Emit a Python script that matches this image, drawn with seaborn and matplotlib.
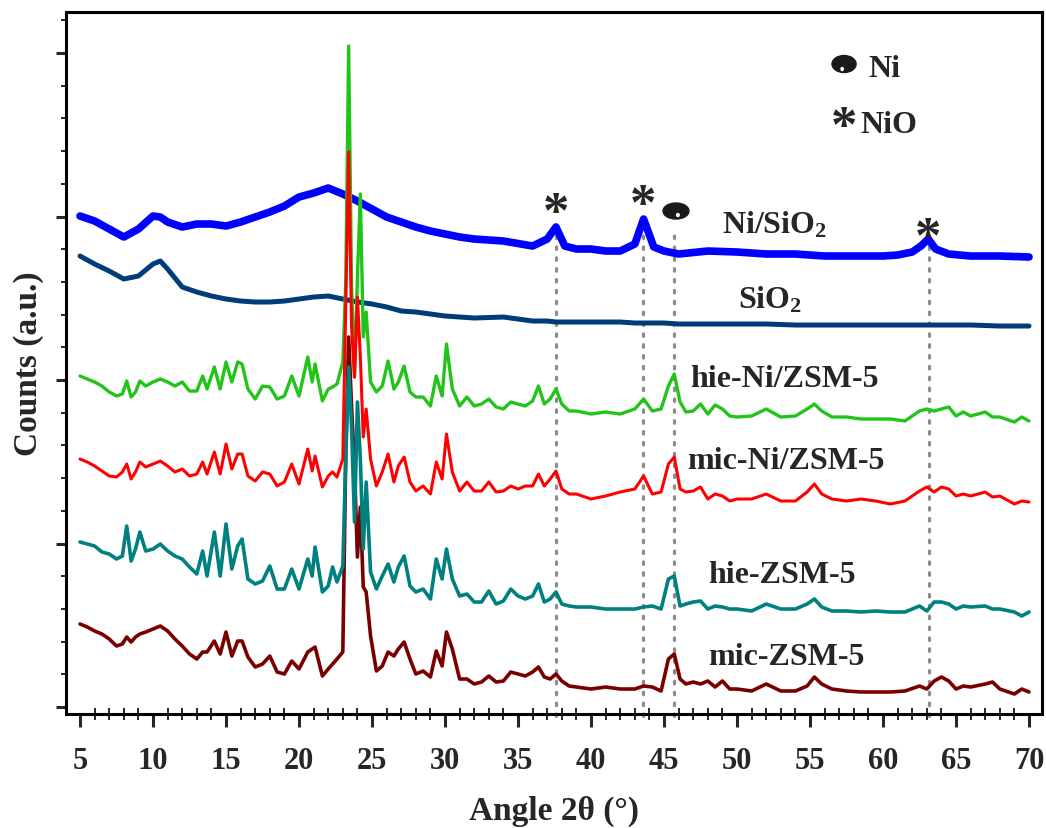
import numpy as np
import pandas as pd
import matplotlib
matplotlib.use('Agg')
import matplotlib.pyplot as plt
import seaborn as sns
from matplotlib.patches import Ellipse
from matplotlib.ticker import MultipleLocator, NullFormatter

# ZSM-5 samples: common 2theta grid (deg) and intensities (a.u., stacked offsets included)
x_zsm = [5.0, 5.5, 6.0, 6.5, 7.0, 7.5,
         7.9, 8.2, 8.5, 8.8, 9.1, 9.5,
         10.0, 10.5, 11.0, 11.5, 12.0, 12.5, 13.0,
         13.4, 13.7, 14.2, 14.6, 15.0, 15.4, 15.8, 16.1, 16.5,
         17.0, 17.5, 18.0, 18.5, 19.0, 19.5, 20.0,
         20.6, 20.9, 21.1, 21.6, 22.0, 22.3, 22.6, 23.0,
         23.2, 23.4, 23.6, 23.8, 24.0, 24.2, 24.4, 24.6, 24.9,
         25.3, 25.7, 26.1, 26.5, 26.8, 27.2, 27.6, 28.0,
         28.5, 29.0, 29.4, 29.8, 30.1, 30.5, 31.0, 31.5, 32.0,
         32.5, 33.0, 33.5, 34.0, 34.5, 35.0, 35.5, 36.0,
         36.4, 36.8, 37.2, 37.6, 38.0, 38.5, 39.0,
         40.0, 41.0, 42.0, 43.0, 43.6, 44.2, 44.8, 45.3, 45.7, 46.1, 46.5,
         47.0, 47.5, 48.0, 48.5, 49.0, 49.5, 50.0,
         51.0, 52.0, 53.0, 54.0, 54.8, 55.3, 55.8, 56.5,
         57.5, 58.5, 59.5, 60.5, 61.5, 62.5,
         63.0, 63.5, 64.0, 64.5, 65.0, 65.5, 66.0,
         67.0, 67.5, 68.0, 69.0, 69.5, 70.0]

hie_ni_zsm5 = [331, 328, 325, 321, 315, 311,
               313, 326, 310, 315, 326, 321,
               325, 328, 325, 321, 325, 316, 316,
               331, 318, 340, 318, 345, 325, 345, 343, 318,
               308, 321, 320, 308, 311, 331, 311,
               350, 325, 343, 306, 318, 320, 323, 345,
               425, 661, 420, 330, 430, 513, 370, 395, 325,
               315, 321, 346, 318, 325, 341, 315, 310,
               310, 301, 331, 311, 363, 318, 301, 310, 301,
               303, 308, 300, 298, 305, 303, 301, 306,
               321, 303, 308, 318, 303, 296, 296,
               293, 295, 293, 298, 308, 296, 298, 321, 333, 305, 295,
               296, 303, 293, 302, 298, 291, 290,
               291, 298, 290, 291, 298, 303, 296, 290,
               290, 288, 288, 288, 286, 296,
               298, 296, 298, 300, 291, 295, 291,
               295, 290, 290, 285, 290, 286]

mic_ni_zsm5 = [248, 245, 241, 236, 231, 230,
               235, 243, 228, 235, 245, 240,
               243, 246, 241, 235, 238, 231, 233,
               245, 233, 255, 233, 263, 238, 253, 253, 231,
               226, 235, 233, 221, 225, 243, 223,
               258, 236, 251, 220, 231, 235, 230, 248,
               400, 555, 380, 330, 410, 350, 270, 298, 248,
               221, 235, 253, 225, 241, 250, 225, 216,
               221, 213, 245, 228, 273, 235, 216, 225, 216,
               216, 225, 215, 216, 221, 218, 221, 221,
               233, 221, 228, 236, 218, 213, 213,
               208, 211, 215, 218, 231, 213, 215, 243, 250, 218, 215,
               216, 220, 208, 213, 211, 206, 208,
               208, 213, 206, 206, 215, 223, 213, 208,
               206, 208, 206, 203, 206, 216,
               220, 215, 220, 218, 211, 213, 211,
               215, 210, 211, 203, 206, 205]

hie_zsm5 = [165, 163, 161, 155, 153, 148,
            151, 181, 146, 158, 175, 156,
            158, 163, 156, 151, 148, 140, 133,
            156, 131, 175, 131, 183, 138, 161, 168, 128,
            123, 126, 141, 118, 118, 138, 118,
            148, 131, 160, 115, 121, 140, 125, 141,
            248, 340, 280, 185, 305, 248, 158, 225, 135,
            118, 131, 143, 125, 140, 151, 121, 115,
            118, 108, 148, 128, 158, 128, 111, 113, 105,
            105, 116, 103, 106, 118, 111, 108, 111,
            123, 105, 108, 115, 103, 101, 100,
            100, 98, 98, 98, 100, 101, 98, 128, 131, 101, 103,
            105, 106, 98, 101, 100, 98, 98,
            96, 103, 98, 98, 103, 108, 100, 96,
            96, 95, 96, 95, 95, 101,
            96, 105, 105, 103, 98, 101, 100,
            101, 98, 98, 95, 91, 95]

mic_zsm5 = [83, 80, 76, 73, 68, 61,
            63, 70, 65, 70, 73, 75,
            78, 81, 76, 68, 61, 53, 48,
            55, 55, 66, 53, 75, 51, 66, 66, 50,
            40, 43, 51, 35, 33, 46, 38,
            55, 58, 60, 31, 38, 43, 48, 55,
            250, 370, 300, 240, 150, 200, 120, 115, 71,
            36, 41, 55, 51, 58, 65, 48, 33,
            36, 30, 56, 41, 75, 58, 28, 28, 23,
            25, 31, 25, 26, 35, 33, 31, 35,
            40, 30, 28, 33, 26, 21, 20,
            18, 20, 18, 18, 21, 20, 16, 48, 53, 28, 23,
            25, 23, 26, 20, 26, 18, 18,
            16, 23, 16, 16, 21, 30, 23, 18,
            16, 15, 15, 15, 16, 21,
            18, 26, 30, 26, 18, 21, 20,
            23, 25, 18, 13, 18, 15]

# silica samples
x_silica = [5, 6, 7, 8, 9, 10, 10.5,
            11, 12, 13, 14, 15, 16, 17, 18, 19, 20, 21, 22, 23, 24, 25, 26, 27, 28, 29, 30, 31, 32,
            34, 36, 37, 37.6, 38.2, 39,
            40, 41, 42, 43, 43.6, 44.3, 45, 46,
            48, 50, 52, 54, 56, 58, 60,
            61, 62, 62.6, 63.1, 63.6, 64.5,
            66, 68, 70]

ni_sio2 = [491, 486, 478, 470, 478, 491, 490,
           485, 480, 483, 483, 481, 485, 490, 495, 501, 510, 514, 519, 513, 506, 498, 490, 485, 480, 476, 473, 470, 468,
           466, 461, 468, 480, 461, 458,
           458, 456, 456, 463, 488, 460, 456, 453,
           456, 455, 453, 453, 451, 451, 451,
           452, 455, 461, 468, 458, 453,
           451, 451, 450]

sio2 = [451, 443, 436, 428, 431, 443, 446,
        438, 420, 415, 411, 408, 406, 405, 405, 406, 408, 410, 411, 408, 405, 403, 400, 396, 395, 393, 391, 390, 389,
        390, 386, 386, 385, 385, 385,
        385, 385, 385, 384, 384, 384, 384, 383,
        383, 383, 383, 382, 382, 382, 382,
        382, 382, 382, 382, 382, 382,
        382, 381, 381]

# reference lines for the phases
nio_peaks = [37.58, 43.58, 63.15]
ni_peaks = [45.7]

sns.set_style('ticks')
plt.rcParams['font.family'] = ['Liberation Serif', 'DejaVu Serif']
plt.rcParams['font.weight'] = 'bold'
plt.rcParams['mathtext.fontset'] = 'custom'
plt.rcParams['mathtext.rm'] = 'Liberation Serif:bold'
plt.rcParams['mathtext.bf'] = 'Liberation Serif:bold'
plt.rcParams['mathtext.it'] = 'Liberation Serif:bold'

fig = plt.figure(figsize=(10.46, 8.29), dpi=100)
ax = fig.add_axes([0.0631, 0.1375, 0.9331, 0.8468])

# dotted guide lines
for xp, top in zip(nio_peaks + ni_peaks, [486, 490, 475, 478]):
    ax.plot([xp, xp], [-9, top], color='#8c8c8c', lw=2.3, ls=(0, (0.8, 2.6)),
            dash_capstyle='round', clip_on=False, zorder=1)

sns.lineplot(x=x_silica, y=ni_sio2, color='#0000ff', lw=5.5, ax=ax, errorbar=None, zorder=2)
sns.lineplot(x=x_silica, y=sio2, color='#003c7a', lw=3.6, ax=ax, errorbar=None, zorder=2)
sns.lineplot(x=x_zsm, y=mic_zsm5, color='#7a0000', lw=2.6, ax=ax, errorbar=None, zorder=3)
sns.lineplot(x=x_zsm, y=hie_zsm5, color='#008080', lw=2.6, ax=ax, errorbar=None, zorder=3)
sns.lineplot(x=x_zsm, y=hie_ni_zsm5, color='#22c41a', lw=2.4, ax=ax, errorbar=None, zorder=4)
sns.lineplot(x=x_zsm, y=mic_ni_zsm5, color='#ff0000', lw=2.2, ax=ax, errorbar=None, zorder=5)

ax.set_xlim(4.04, 70.89)
ax.set_ylim(-7, 695)
ax.xaxis.set_major_locator(MultipleLocator(5))
ax.xaxis.set_minor_locator(MultipleLocator(1))
ax.yaxis.set_major_locator(MultipleLocator(163.5))
ax.yaxis.set_minor_locator(MultipleLocator(32.7))
ax.yaxis.set_major_formatter(NullFormatter())

for s in ax.spines.values():
    s.set_linewidth(2.2)
    s.set_color('black')

ax.tick_params(axis='x', which='major', direction='out', length=9, width=2.2,
               labelsize=22, pad=14)
ax.tick_params(axis='x', which='minor', direction='inout', length=8, width=1.4)
ax.tick_params(axis='y', which='major', direction='out', length=7.5, width=2.2)
ax.tick_params(axis='y', which='minor', direction='out', length=3.5, width=1.4)
for lab in ax.get_xticklabels():
    lab.set_fontweight('bold')

ax.set_xlabel('Angle 2θ (°)', fontsize=24, fontweight='bold', labelpad=14)
ax.set_ylabel('Counts (a.u.)', fontsize=24, fontweight='bold', labelpad=5)

# sample labels
lab_kw = dict(fontsize=23, fontweight='bold', ha='left', va='baseline', zorder=6)
ax.text(49.0, 475, 'Ni/SiO$_2$', **lab_kw)
ax.text(50.1, 400, 'SiO$_2$', **lab_kw)
ax.text(46.8, 321, 'hie-Ni/ZSM-5', **lab_kw)
ax.text(46.6, 239, 'mic-Ni/ZSM-5', **lab_kw)
ax.text(48.0, 125, 'hie-ZSM-5', **lab_kw)
ax.text(48.0, 43, 'mic-ZSM-5', **lab_kw)

# phase markers
star_kw = dict(fontsize=38, fontweight='bold', ha='center', va='baseline', zorder=6)
for xs, ys in [(37.6, 480), (43.55, 488), (63.08, 455)]:
    ax.text(xs, ys, '*', **star_kw)
ax.add_patch(Ellipse((45.82, 496), 1.78, 16, color='#1a1a1a', zorder=6))
ax.add_patch(Ellipse((45.95, 492), 0.18, 3, color='white', zorder=7))

# key
ax.add_patch(Ellipse((57.33, 643), 1.65, 17, color='#1a1a1a', zorder=6))
ax.add_patch(Ellipse((57.2, 638), 0.16, 3, color='white', zorder=7))
ax.text(58.97, 631, 'Ni', fontsize=23, fontweight='bold', ha='left', va='baseline')
ax.text(57.3, 566, '*', **star_kw)
ax.text(58.42, 575, 'NiO', fontsize=23, fontweight='bold', ha='left', va='baseline')

fig.savefig('out.png', dpi=100)
